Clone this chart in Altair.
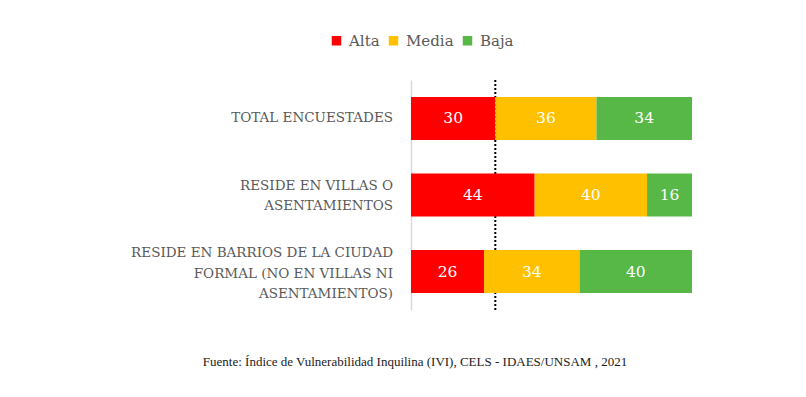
import altair as alt
import pandas as pd

groups = ["TOTAL ENCUESTADES",
          "RESIDE EN VILLAS O ASENTAMIENTOS",
          "RESIDE EN BARRIOS DE LA CIUDAD FORMAL (NO EN VILLAS NI ASENTAMIENTOS)"]
group_lines = ["TOTAL ENCUESTADES",
               "RESIDE EN VILLAS O\nASENTAMIENTOS",
               "RESIDE EN BARRIOS DE LA CIUDAD\nFORMAL (NO EN VILLAS NI\nASENTAMIENTOS)"]
levels = ["Alta", "Media", "Baja"]
colors = ["#FF0000", "#FFC000", "#57B848"]
alta = [30, 44, 26]
media = [36, 40, 34]
baja = [34, 16, 40]
threshold = [30]
source = "Fuente: Índice de Vulnerabilidad Inquilina (IVI), CELS - IDAES/UNSAM , 2021"

rows = []
for i, g in enumerate(groups):
    start = 0
    for lvl, vals in zip(levels, [alta, media, baja]):
        v = vals[i]
        rows.append({"group": g, "level": lvl, "order": levels.index(lvl),
                     "start": start, "end": start + v, "mid": start + v / 2, "value": v})
        start += v
df = pd.DataFrame(rows)
lab_df = pd.DataFrame({"group": groups, "label": group_lines,
                       "nlines": [s.count("\n") + 1 for s in group_lines]})

FONT = "DejaVu Serif"
LH = 20.5

y_enc = alt.Y("group:N", sort=groups,
              scale=alt.Scale(paddingInner=0.438, paddingOuter=0.222),
              axis=alt.Axis(labels=False, ticks=False, title=None,
                            domainColor="#D9D9D9", domainWidth=1.5))

rule = alt.Chart(pd.DataFrame({"t": threshold})).mark_rule(
    color="black", strokeDash=[2, 2], strokeWidth=2).encode(
    x=alt.X("t:Q", scale=alt.Scale(domain=[0, 100], nice=False), axis=None))

bars = alt.Chart(df).mark_bar().encode(
    x=alt.X("start:Q", scale=alt.Scale(domain=[0, 100], nice=False), axis=None),
    x2="end:Q",
    y=y_enc,
    color=alt.Color("level:N", sort=levels,
                    scale=alt.Scale(domain=levels, range=colors),
                    legend=alt.Legend(title=None, orient="none", direction="horizontal",
                                      legendX=-82, legendY=-47,
                                      symbolType="square", symbolSize=90,
                                      symbolStrokeWidth=0, symbolOpacity=1,
                                      labelFont=FONT, labelFontSize=15,
                                      labelColor="#595959", labelOffset=5,
                                      columnPadding=6)),
)

bar_text = alt.Chart(df).mark_text(font=FONT, fontSize=15.5, color="white",
                                   baseline="middle", align="center").encode(
    x=alt.X("mid:Q"),
    y=alt.Y("group:N", sort=groups),
    text="value:Q",
)

label_layers = []
for n in [1, 2, 3]:
    label_layers.append(
        alt.Chart(lab_df).transform_filter(alt.datum.nlines == n).mark_text(
            font=FONT, fontSize=13.5, color="#595959",
            align="right", baseline="middle",
            lineBreak="\n", lineHeight=LH, dy=-(n - 1) * LH / 2 + (n - 1)).encode(
            x=alt.value(-18),
            y=alt.Y("group:N", sort=groups),
            text="label:N",
        )
    )

foot = alt.Chart(pd.DataFrame({"s": [source]})).mark_text(
    font="Liberation Serif", fontSize=13, color="#222222",
    align="center", baseline="middle").encode(
    x=alt.value(4), y=alt.value(282), text="s:N")

chart = alt.layer(rule, bars, bar_text, *label_layers, foot).properties(
    width=281, height=230,
    autosize=alt.AutoSizeParams(type="none"),
    padding={"left": 403, "top": 72, "right": 100, "bottom": 70},
).configure_view(stroke=None).configure_axis(grid=False)

chart.save("out.html", embed_options={"renderer": "svg", "actions": False})
